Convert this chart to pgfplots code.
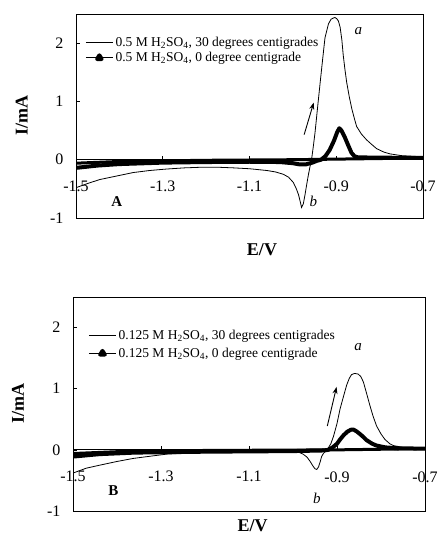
\documentclass[border=0pt]{standalone}
\usepackage{pgfplots}
\pgfplotsset{compat=1.18}
\usepackage{fontspec}
\setmainfont{Liberation Serif}
\usetikzlibrary{arrows.meta}

\pgfplotsset{
 cvaxis/.style={
  scale only axis,
  xmin=-1.5, xmax=-0.7, ymin=-1, ymax=2.5,
  axis x line*=middle, axis y line*=left,
  hide obscured x ticks=false, hide obscured y ticks=false,
  xtick={-1.5,-1.3,-1.1,-0.9,-0.7},
  xticklabels={-1.5,-1.3,-1.1,-0.9,-0.7},
  ytick={-1,0,1,2},
  yticklabels={-1,0,1,2},
  tick align=inside,
  major tick length=4pt,
  tick style={line width=0.6pt, black},
  axis line style={line width=0.8pt},
  tick label style={font=\fontsize{16}{18}\selectfont},
  /pgf/number format/assume math mode=true,
  xticklabel style={yshift=-18pt},
  yticklabel style={xshift=-9pt},
  xlabel={E/V}, ylabel={I/mA},
  legend cell align=left,
  legend style={draw=none, fill=none, inner sep=0pt, font=\fontsize{13.5}{16}\selectfont},
  after end axis/.code={\draw[line width=0.8pt] (rel axis cs:0,0) rectangle (rel axis cs:1,1);},
 },
 thinline/.style={black, line width=0.8pt, no marks,
   legend image code/.code={\draw[black, line width=0.8pt] (0pt,0pt) -- (27pt,0pt);}},
 thickline/.style={black, line width=4pt, no marks, line join=round,
   legend image code/.code={\draw[black, line width=1.3pt] (0pt,0pt) -- (27pt,0pt);
      \fill[black] (13.5pt,2.4pt) -- (11.2pt,-1.3pt) -- (15.8pt,-1.3pt) -- cycle;}},
 thinret/.style={black, line width=3pt, no marks, line join=round, forget plot},
}

\begin{document}
\begin{tikzpicture}
\useasboundingbox (0pt,0pt) rectangle (441pt,537pt);

% ---------------- Panel A ----------------
\begin{axis}[cvaxis,
  at={(76pt,319pt)}, anchor=south west, width=347pt, height=204pt,
  every axis x label/.style={at={(axis description cs:0.536,0)}, anchor=north, inner sep=1pt, yshift=-24pt, font=\fontsize{18}{20}\selectfont\bfseries},
  every axis y label/.style={at={(axis description cs:-0.156,0.5)}, rotate=90, anchor=center, font=\fontsize{18}{20}\selectfont\bfseries},
  legend style={at={(axis description cs:0.026,0.896)}, anchor=north west, row sep=0pt},
]
\addplot[thinline] coordinates {
(-1.5,-0.48) (-1.47,-0.40) (-1.445,-0.34) (-1.40,-0.27) (-1.368,-0.22) (-1.33,-0.185)
(-1.291,-0.16) (-1.25,-0.14) (-1.214,-0.13) (-1.17,-0.13) (-1.137,-0.14) (-1.10,-0.155)
(-1.06,-0.185) (-1.04,-0.21) (-1.022,-0.25) (-1.01,-0.3) (-0.999,-0.39) (-0.992,-0.5)
(-0.987,-0.6) (-0.983,-0.72) (-0.980,-0.82) (-0.976,-0.76) (-0.972,-0.6) (-0.968,-0.42)
(-0.964,-0.25) (-0.960,-0.1) (-0.957,0) (-0.953,0.22) (-0.949,0.46) (-0.943,0.9)
(-0.937,1.33) (-0.931,1.75) (-0.926,2.09) (-0.918,2.33) (-0.912,2.41) (-0.907,2.43)
(-0.903,2.44) (-0.899,2.42) (-0.895,2.38) (-0.891,2.27) (-0.887,2.05) (-0.884,1.8)
(-0.880,1.55) (-0.876,1.33) (-0.87,1.08) (-0.864,0.87) (-0.858,0.7) (-0.853,0.57)
(-0.842,0.44) (-0.830,0.34) (-0.818,0.26) (-0.807,0.19) (-0.79,0.13) (-0.776,0.1)
(-0.75,0.07) (-0.7,0.05)
};
\addlegendentry{0.5 M H\textsubscript{2}SO\textsubscript{4}, 30 degrees centigrades}
\addplot[thickline] coordinates {
(-1.5,-0.14) (-1.45,-0.1) (-1.4,-0.075) (-1.3,-0.05) (-1.2,-0.04) (-1.1,-0.035)
(-1.03,-0.04) (-1.0,-0.06) (-0.985,-0.08) (-0.97,-0.08) (-0.955,-0.05) (-0.945,-0.02)
(-0.935,0.0) (-0.925,0.06) (-0.915,0.17) (-0.905,0.33) (-0.898,0.47) (-0.893,0.54)
(-0.888,0.5) (-0.88,0.38) (-0.872,0.24) (-0.865,0.12) (-0.858,0.06) (-0.85,0.04)
(-0.8,0.035) (-0.7,0.03)
};
\addlegendentry{0.5 M H\textsubscript{2}SO\textsubscript{4}, 0 degree centigrade}
\addplot[thinret] coordinates {
(-0.7,0.03) (-0.8,0.02) (-0.9,0.01) (-1.0,0.0) (-1.2,-0.01) (-1.4,-0.03) (-1.5,-0.06)
};
\draw[black, line width=0.9pt, -{Stealth[length=7pt,width=5pt]}] (axis cs:-0.974,0.43) -- (axis cs:-0.952,0.98);
\node[font=\fontsize{15}{17}\selectfont\itshape] at (axis cs:-0.849,2.21) {a};
\node[font=\fontsize{15}{17}\selectfont\itshape] at (axis cs:-0.953,-0.71) {b};
\node[font=\fontsize{15}{17}\selectfont\bfseries] at (axis cs:-1.406,-0.71) {A};
\end{axis}

% ---------------- Panel B ----------------
\begin{axis}[cvaxis,
  at={(73pt,26pt)}, anchor=south west, width=352pt, height=214pt,
  every axis x label/.style={at={(axis description cs:0.51,0)}, anchor=north, inner sep=1pt, yshift=-7pt, font=\fontsize{18}{20}\selectfont\bfseries},
  every axis y label/.style={at={(axis description cs:-0.156,0.5)}, rotate=90, anchor=center, font=\fontsize{18}{20}\selectfont\bfseries},
  legend style={at={(axis description cs:0.043,0.856)}, anchor=north west, row sep=3pt},
]
\addplot[thinline] coordinates {
(-1.5,-0.38) (-1.47,-0.3) (-1.439,-0.25) (-1.40,-0.19) (-1.363,-0.14) (-1.32,-0.1)
(-1.287,-0.07) (-1.25,-0.055) (-1.211,-0.045) (-1.136,-0.03) (-1.06,-0.03) (-1.0,-0.03)
(-0.985,-0.045) (-0.977,-0.07) (-0.968,-0.12) (-0.961,-0.19) (-0.955,-0.26) (-0.95,-0.31)
(-0.946,-0.32) (-0.942,-0.28) (-0.938,-0.19) (-0.935,-0.11) (-0.931,-0.06) (-0.927,-0.03)
(-0.92,0.03) (-0.914,0.1) (-0.908,0.22) (-0.9,0.43) (-0.893,0.67) (-0.885,0.88)
(-0.878,1.06) (-0.872,1.17) (-0.867,1.23) (-0.86,1.25) (-0.852,1.24) (-0.846,1.2)
(-0.84,1.11) (-0.833,0.93) (-0.825,0.72) (-0.818,0.55) (-0.81,0.39) (-0.8,0.26)
(-0.791,0.17) (-0.78,0.1) (-0.772,0.07) (-0.742,0.03) (-0.7,0.02)
};
\addlegendentry{0.125 M H\textsubscript{2}SO\textsubscript{4}, 30 degrees centigrades}
\addplot[thickline] coordinates {
(-1.5,-0.11) (-1.44,-0.07) (-1.36,-0.045) (-1.2,-0.03) (-1.0,-0.02) (-0.93,-0.01)
(-0.92,0.0) (-0.91,0.04) (-0.9,0.1) (-0.893,0.17) (-0.885,0.24) (-0.876,0.3)
(-0.868,0.33) (-0.862,0.33) (-0.855,0.3) (-0.848,0.26) (-0.84,0.21) (-0.833,0.16)
(-0.82,0.1) (-0.81,0.07) (-0.79,0.04) (-0.76,0.025) (-0.7,0.02)
};
\addlegendentry{0.125 M H\textsubscript{2}SO\textsubscript{4}, 0 degree centigrade}
\addplot[thinret] coordinates {
(-0.7,0.02) (-0.9,0.0) (-1.2,-0.01) (-1.4,-0.03) (-1.5,-0.06)
};
\draw[black, line width=0.9pt, -{Stealth[length=7pt,width=5pt]}] (axis cs:-0.922,0.39) -- (axis cs:-0.901,1.03);
\node[font=\fontsize{15}{17}\selectfont\itshape] at (axis cs:-0.852,1.68) {a};
\node[font=\fontsize{15}{17}\selectfont\itshape] at (axis cs:-0.946,-0.8) {b};
\node[font=\fontsize{15}{17}\selectfont\bfseries] at (axis cs:-1.408,-0.67) {B};
\end{axis}
\end{tikzpicture}
\end{document}
